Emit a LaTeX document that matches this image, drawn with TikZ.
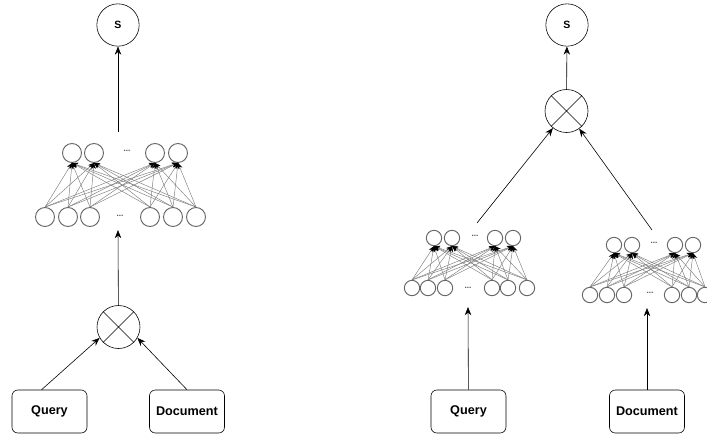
\documentclass[tikz,border=0pt]{standalone}
\usepackage{fontspec}
\setmainfont{Liberation Sans}
\usetikzlibrary{arrows.meta}

% #1 name prefix, #2 upper x list, #3 upper y, #4 lower x list, #5 lower y, #6 unit size
\newcommand{\ffnet}[6]{%
  \foreach \x [count=\i] in {#2}
    \node[unit, minimum size=#6] (#1u\i) at (\x,#3) {};
  \foreach \x [count=\j] in {#4}
    \node[unit, minimum size=#6] (#1l\j) at (\x,#5) {};
  \foreach \i in {1,...,4}
    \foreach \j in {1,...,6}
      \draw[link] (#1l\j.north) -- (#1u\i.south);
}

\begin{document}
\begin{tikzpicture}[x=0.03cm, y=-0.03cm,
  unit/.style={circle, draw=black!60, line width=0.8pt, inner sep=0pt},
  link/.style={black!50, line width=0.4pt, -{Stealth[length=5pt, width=4pt, black]}},
  dots/.style={font=\scriptsize\bfseries, text=black!70, inner sep=0pt},
  score/.style={circle, draw, line width=0.5pt, minimum size=1.27cm, inner sep=0pt, font=\fontsize{9}{11}\selectfont\bfseries},
  mult/.style={circle, draw, line width=0.5pt, minimum size=1.29cm, inner sep=0pt},
  box/.style={draw, line width=0.5pt, rounded corners=5pt, minimum width=2.25cm, minimum height=1.29cm, font=\fontsize{10.8}{13}\selectfont\bfseries},
  arr/.style={line width=0.5pt, -{Stealth[length=7pt, width=5.5pt]}}]
  \useasboundingbox (0,0) rectangle (707,435);

  % Left: interaction first, then network
  \node[score] (ls) at (118,25) {S};
  \ffnet{ln}{72,94,155,178}{153}{45,68,90,150,173,196}{217}{0.57cm}
  \node[dots] (lnd1) at (127,151) {...};
  \node[dots] (lnd2) at (120,216) {...};
  \coordinate (lntop) at (118,132);
  \coordinate (lnbot) at (118,230);
  \node[mult] (lx) at (118.5,327) {};
  \draw[line width=0.5pt] (lx.45) -- (lx.225) (lx.135) -- (lx.-45);
  \node[box] (lq) at (49.5,411.5) {Query};
  \node[box] (ld) at (187,411.5) {Document};

  \draw[arr] (lntop) -- (ls);
  \draw[arr] (lx) -- (lnbot);
  \draw[arr] (lq.110) -- (lx.210);
  \draw[arr] (ld.north) -- (lx.-30);

  % Right: one network per input, then interaction
  \node[score] (rs) at (567,25) {S};
  \node[mult] (rx) at (566.5,111) {};
  \draw[line width=0.5pt] (rx.45) -- (rx.225) (rx.135) -- (rx.-45);
  \ffnet{qn}{434,452,495,513}{238}{412,428,445,492,508,527}{288}{0.46cm}
  \ffnet{dn}{614,632,675,693}{245}{590,607,624,672,689,705}{295}{0.46cm}
  \node[dots] (qnd1) at (475,236) {...};
  \node[dots] (qnd2) at (468,288) {...};
  \node[dots] (dnd1) at (654,243) {...};
  \node[dots] (dnd2) at (650,293) {...};
  \coordinate (qntop) at (477,223);
  \coordinate (dntop) at (652,230);
  \coordinate (qnbot) at (468,307);
  \coordinate (dnbot) at (647,308);
  \node[box] (rq) at (468.5,411.5) {Query};
  \node[box] (rd) at (647,411.5) {Document};

  \draw[arr] (rx) -- (rs);
  \draw[arr] (qntop) -- (rx);
  \draw[arr] (dntop) -- (rx);
  \draw[arr] (rq) -- (qnbot);
  \draw[arr] (rd) -- (dnbot);
\end{tikzpicture}
\end{document}
